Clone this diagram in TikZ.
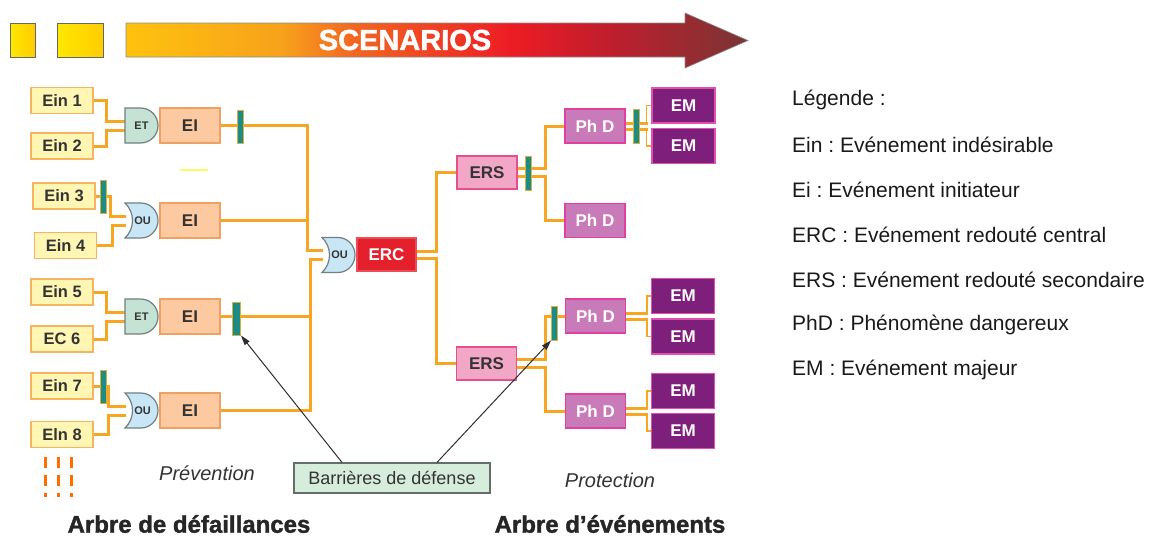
\documentclass[tikz,border=0pt]{standalone}
\usepackage{fontspec}
\setmainfont{Liberation Sans}
\newfontfamily\heavyfont{Liberation Sans}[FakeBold=1.5]
\usetikzlibrary{calc}
\usetikzlibrary{arrows, arrows.meta}
\usetikzlibrary{backgrounds}

\definecolor{linkorange}{RGB}{246,166,35}
\definecolor{textdark}{RGB}{51,51,51}
\definecolor{einfill}{RGB}{255,246,180}
\definecolor{einline}{RGB}{244,180,96}
\definecolor{eifill}{RGB}{252,201,160}
\definecolor{eiline}{RGB}{240,160,96}
\definecolor{andfill}{RGB}{197,227,213}
\definecolor{orfill}{RGB}{201,230,247}
\definecolor{gateline}{RGB}{112,128,128}
\definecolor{barrierfill}{RGB}{28,140,132}
\definecolor{barrierline}{RGB}{214,176,64}
\definecolor{ercfill}{RGB}{227,32,43}
\definecolor{ersfill}{RGB}{243,167,198}
\definecolor{ersline}{RGB}{228,80,142}
\definecolor{phdfill}{RGB}{201,122,184}
\definecolor{phdline}{RGB}{226,64,160}
\definecolor{emfill}{RGB}{126,31,123}
\definecolor{emline}{RGB}{224,80,176}
\definecolor{defensefill}{RGB}{215,237,220}
\definecolor{defenseline}{RGB}{96,112,104}
\definecolor{tableft}{RGB}{255,232,0}
\definecolor{tabright}{RGB}{255,204,0}
\definecolor{scenA}{RGB}{255,194,14}
\definecolor{scenB}{RGB}{247,162,27}
\definecolor{scenC}{RGB}{242,101,34}
\definecolor{scenD}{RGB}{237,28,36}
\definecolor{scenE}{RGB}{190,30,45}
\definecolor{scenF}{RGB}{122,53,53}

\pgfdeclarehorizontalshading{scenarioshade}{100bp}{color(0bp)=(scenA); color(25bp)=(scenA); color(37.5bp)=(scenB); color(43.5bp)=(scenC); color(56bp)=(scenD); color(64bp)=(scenE); color(75bp)=(scenF); color(100bp)=(scenF)}

\begin{document}
\frenchspacing
\begin{tikzpicture}[x=1pt, y=-1pt]

\useasboundingbox (0, 0) rectangle (1158, 538) ;

% styles

\tikzstyle{box font} = [font=\bfseries\fontsize{17}{20}\selectfont]
\tikzstyle{cause box} =
	[rectangle, draw=einline, fill=einfill, line width=1.2pt, minimum width=62, minimum height=26, inner sep=0, text=textdark, font=\bfseries\fontsize{16.5}{19}\selectfont]
\tikzstyle{init box} =
	[rectangle, draw=eiline, fill=eifill, line width=1.2pt, minimum width=60, minimum height=35, inner sep=0, text=textdark, box font]
\tikzstyle{central box} =
	[rectangle, draw=ercfill!80!white, fill=ercfill, line width=1.2pt, minimum width=59, minimum height=33, inner sep=0, text=white, box font]
\tikzstyle{secondary box} =
	[rectangle, draw=ersline, fill=ersfill, line width=1.2pt, minimum width=60, minimum height=33, inner sep=0, text=textdark, box font]
\tikzstyle{phenomenon box} =
	[rectangle, draw=phdline, fill=phdfill, line width=1.2pt, minimum width=60, minimum height=34, inner sep=0, text=white, box font]
\tikzstyle{major box} =
	[rectangle, draw=emline, fill=emfill, line width=1.2pt, minimum width=63, minimum height=35, inner sep=0, text=white, box font]
\tikzstyle{barrier} =
	[rectangle, draw=barrierline, fill=barrierfill, line width=.8pt, minimum width=6, minimum height=33, inner sep=0]
\tikzstyle{and gate} = [draw=gateline, fill=andfill, line width=1.2pt]
\tikzstyle{or gate} = [draw=gateline, fill=orfill, line width=1.2pt]
\tikzstyle{gate label} =
	[minimum width=33, minimum height=35, inner sep=0, text=textdark, font=\bfseries\fontsize{11}{13}\selectfont]
\tikzstyle{tab square} =
	[rectangle, draw=black!60, line width=1pt, left color=tableft, right color=tabright, minimum height=34, inner sep=0]
\tikzstyle{link} = [line width=3pt, linkorange]
\tikzstyle{thin link} = [line width=1.3pt, linkorange]
\tikzstyle{defense arrow} =
	[line width=1pt, textdark!90!black, -{Triangle[length=10pt, width=6pt]}]
\tikzstyle{defense box} =
	[rectangle, draw=defenseline, fill=defensefill, line width=1.2pt, minimum width=196, minimum height=30, inner sep=0, text=textdark, font=\fontsize{18}{21}\selectfont]
\tikzstyle{phase label} = [text=textdark, font=\itshape\fontsize{20}{24}\selectfont]
\tikzstyle{tree title} = [inner sep=0, text=black!85, font=\heavyfont\bfseries\fontsize{24}{28}\selectfont]
\tikzstyle{legend text} = [anchor=west, inner sep=0, text=black!90, font=\fontsize{21}{25}\selectfont]

\newcommand\andgate[3]{% name, left x, centre y
	\draw [and gate] (#2, #3 - 17.5) -- (#2 + 15.5, #3 - 17.5)
		arc [start angle=-90, end angle=90, radius=17.5] -- (#2, #3 + 17.5) -- cycle ;
	\node [gate label] (#1) at (#2 + 16.5, #3) {ET} ;
}
\newcommand\orgate[3]{% name, left x, centre y
	\draw [or gate] (#2, #3 - 17.5) -- (#2 + 16, #3 - 17.5)
		arc [start angle=-90, end angle=90, x radius=17, y radius=17.5] -- (#2, #3 + 17.5)
		.. controls (#2 + 10, #3 + 8) and (#2 + 10, #3 - 8) .. (#2, #3 - 17.5) -- cycle ;
	\node [gate label] (#1) at (#2 + 17.5, #3) {OU} ;
}

% scenarios banner

\node [tab square, minimum width=25] (tab1) at (22.5, 40) {} ;
\node [tab square, minimum width=46] (tab2) at (80, 40) {} ;

\shadedraw [shading=scenarioshade, draw=black!45, line width=.6pt]
	(126, 23) -- (685, 23) -- (685, 13) -- (748, 40.5) -- (685, 68) -- (685, 57) -- (126, 57) -- cycle ;
\node [text=white, font=\heavyfont\bfseries\fontsize{29}{34}\selectfont] (scen) at (405, 40) {SCENARIOS} ;

% fault tree

\node [cause box] (ein1) at (62, 100.5) {Ein 1} ;
\node [cause box] (ein2) at (62, 146) {Ein 2} ;
\node [cause box] (ein3) at (64, 196) {Ein 3} ;
\node [cause box] (ein4) at (65.5, 245.5) {Ein 4} ;
\node [cause box] (ein5) at (62, 292) {Ein 5} ;
\node [cause box] (ec6) at (62, 339) {EC 6} ;
\node [cause box] (ein7) at (62, 386) {Ein 7} ;
\node [cause box] (eln8) at (62, 434.5) {Eln 8} ;

\andgate{g1}{125}{125.5}
\orgate{g2}{125}{220.5}
\andgate{g3}{125}{316.5}
\orgate{g4}{125}{410.5}

\node [init box] (ei1) at (190, 125.5) {EI} ;
\node [init box] (ei2) at (190, 220.5) {EI} ;
\node [init box] (ei3) at (190, 316.5) {EI} ;
\node [init box] (ei4) at (190, 410.5) {EI} ;

\node [barrier] (b1) at (240, 127) {} ;
\node [barrier] (b2) at (103, 196.5) {} ;
\node [barrier, minimum width=8] (b3) at (236.5, 318.5) {} ;
\node [barrier] (b4) at (103, 386.5) {} ;

\draw [line width=2pt, yellow!60!white] (180, 170) -- (208, 170) ;

\foreach \xdash in {45, 58, 71}
	\draw [line width=3pt, orange!85!red, dash pattern=on 11pt off 7pt] (\xdash, 457) -- (\xdash, 497) ;

% central event

\orgate{gerc}{322}{255}
\node [central box] (erc) at (386.5, 254.5) {ERC} ;

% event tree

\node [secondary box] (ers1) at (487, 172.5) {ERS} ;
\node [secondary box] (ers2) at (486.5, 363.5) {ERS} ;

\node [phenomenon box] (phd1) at (595, 126) {Ph D} ;
\node [phenomenon box] (phd2) at (595, 220.5) {Ph D} ;
\node [phenomenon box] (phd3) at (595.5, 316) {Ph D} ;
\node [phenomenon box] (phd4) at (595.5, 411) {Ph D} ;

\node [major box] (em1) at (683.5, 105.5) {EM} ;
\node [major box] (em2) at (683.5, 146) {EM} ;
\node [major box] (em3) at (683, 296) {EM} ;
\node [major box] (em4) at (683, 336.5) {EM} ;
\node [major box] (em5) at (683, 391) {EM} ;
\node [major box] (em6) at (683, 431) {EM} ;

\node [barrier, minimum height=34] (b5) at (528, 173) {} ;
\node [barrier, minimum height=34] (b6) at (636, 126) {} ;
\node [barrier, minimum height=34] (b7) at (554.5, 323) {} ;

% connectors

\coordinate (busup) at (307, 0) ;
\coordinate (busdown) at (310, 0) ;
\coordinate (ercin1) at ([yshift=4.5pt]gerc.west) ;
\coordinate (ercin2) at ([yshift=-4.5pt]gerc.west) ;

\begin{scope}[on background layer]
\draw [link] (ein1.east) -- ++(13, 0) |- ([yshift=4.5pt]g1.west) ;
\draw [link] (ein2.east) -- ++(13, 0) |- ([yshift=-4.5pt]g1.west) ;
\draw [link] (ein3.east) -- ++(15, 0) |- ([yshift=4.5pt]g2.west) ;
\draw [link] (ein4.east) -- ++(15, 0) |- ([yshift=-4.5pt]g2.west) ;
\draw [link] (ein5.east) -- ++(13, 0) |- ([yshift=4.5pt]g3.west) ;
\draw [link] (ec6.east) -- ++(13, 0) |- ([yshift=-4.5pt]g3.west) ;
\draw [link] (ein7.east) -- ++(15, 0) |- ([yshift=4.5pt]g4.west) ;
\draw [link] (eln8.east) -- ++(15, 0) |- ([yshift=-4.5pt]g4.west) ;

\draw [link] (ei1.east) -| (ercin1 -| busup) -- (ercin1) ;
\draw [link] (ei2.east) -- (ei2.east -| busup) ;
\draw [link] (ei3.east) -| (ercin2 -| busdown) -- (ercin2) ;
\draw [link] (ei4.east) -| (ercin2 -| busdown) ;

\draw [link] ([yshift=3.5pt]erc.east) -- ++(20, 0) |- (ers1.west) ;
\draw [link] ([yshift=-3.5pt]erc.east) -- ++(20, 0) |- (ers2.west) ;

\draw [link] ([yshift=4pt]ers1.east) -- ++(28, 0) |- (phd1.west) ;
\draw [link] ([yshift=-4pt]ers1.east) -- ++(28, 0) |- (phd2.west) ;
\draw [link] ([yshift=4pt]ers2.east) -- ++(28, 0) |- (phd3.west) ;
\draw [link] ([yshift=-4pt]ers2.east) -- ++(28, 0) |- (phd4.west) ;

\foreach \phd/\emtop/\embottom in {phd1/em1/em2, phd3/em3/em4, phd4/em5/em6} {
	\draw [link] ([yshift=3pt]\phd.east) -- ++(22, 0) coordinate (\phd up) ;
	\draw [link] ([yshift=-3pt]\phd.east) -- ++(22, 0) coordinate (\phd down) ;
	\draw [thin link] ([xshift=-1pt]\phd up) |- (\emtop.west) ;
	\draw [thin link] ([xshift=-1pt]\phd down) |- (\embottom.west) ;
}
\end{scope}

% barriers and labels

\node [defense box] (barr) at (392, 478) {Barrières de défense} ;
\draw [defense arrow] ([xshift=-50pt]barr.north) -- (b3.south east) ;
\draw [defense arrow] ([xshift=45pt]barr.north) -- (b7.south west) ;

\node [phase label] (prev) at (207, 473) {Prévention} ;
\node [phase label] (prot) at (610, 480) {Protection} ;

\node [tree title] (fta) at (189, 524) {Arbre de défaillances} ;
\node [tree title] (eta) at (610, 524) {Arbre d’événements} ;

% legend

\foreach \legline/\legy/\legtext in {0/100/{Légende :}, 1/145/{Ein : Evénement indésirable}, 2/190/{Ei : Evénement initiateur}, 3/235/{ERC : Evénement redouté central}, 4/280/{ERS : Evénement redouté secondaire}, 5/325/{PhD : Phénomène dangereux}, 6/370/{EM : Evénement majeur}}
	\node [legend text] (leg\legline) at (792, \legy) {\legtext} ;

\end{tikzpicture}
\end{document}
